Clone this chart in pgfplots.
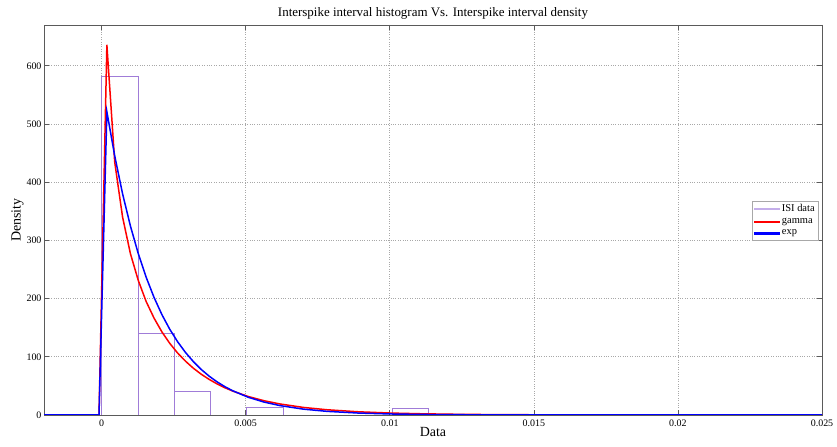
\documentclass[border=0pt]{standalone}
\usepackage{fontspec}
\setmainfont{Liberation Serif}
\usepackage{pgfplots}
\pgfplotsset{compat=1.18}
\definecolor{isi}{HTML}{A07CD8}
\definecolor{isilight}{HTML}{C4AEEA}
\definecolor{frame}{HTML}{5A5A5A}
\definecolor{gridc}{HTML}{A8A8A8}
\definecolor{gred}{HTML}{FF0000}
\definecolor{eblue}{HTML}{0000FF}

\begin{document}
\begin{tikzpicture}
\begin{axis}[
    name=ax,
    scale only axis,
    width=778bp, height=390bp,
    xmin=-0.002, xmax=0.025,
    ymin=0, ymax=670,
    xtick={0,0.005,0.01,0.015,0.02,0.025},
    xticklabels={0,0.005,0.01,0.015,0.02,0.025},
    ytick={0,100,200,300,400,500,600},
    scaled x ticks=false,
    /pgf/number format/assume math mode=true,
    tick label style={font=\fontsize{10}{12}\selectfont},
    xticklabel style={yshift=-1bp},
    yticklabel style={xshift=1bp},
    major tick length=5bp,
    axis line style={frame, line width=0.8bp},
    tick style={frame, line width=0.6bp},
    grid=major,
    grid style={gridc, dotted, line width=0.6bp},
    title={Interspike interval histogram Vs. Interspike interval density},
    title style={font=\fontsize{13}{15}\selectfont, yshift=-4bp},
    xlabel={Data}, ylabel={Density},
    label style={font=\fontsize{14}{16}\selectfont},
    xlabel style={yshift=6bp},
    ylabel style={yshift=-4bp},
    legend style={at={(0.996,0.499)}, anchor=east, draw=gridc,
        font=\fontsize{10.5}{12}\selectfont, row sep=1bp,
        inner xsep=2bp, inner ysep=1.5bp, cells={anchor=west}},
]
  % histogram (density scaled)
  \addplot[ybar interval, draw=isi, fill=none, line width=0.8bp, forget plot] coordinates {
    (0,581)(0.00126,140)(0.00252,41)(0.00378,0)(0.00504,13)(0.0063,0)
    (0.00756,0)(0.00882,0)(0.01008,11)(0.01134,0)(0.0126,0)(0.01386,0)
    (0.01512,0)(0.01638,0)(0.01764,0)(0.0189,0)(0.02016,0)(0.02142,0)
    (0.02268,0)(0.02394,0)(0.0252,0)
  };
  % gamma fit
  \addplot[gred, line width=1.5bp, mark=none, forget plot] coordinates {
    (-0.002,0)(-0.0000909,0)(0.000182,636)(0.000455,434)(0.000727,340)
    (0.001,277)(0.001273,231)(0.001545,195)(0.001818,166.5)(0.002091,142.8)
    (0.002364,123.1)(0.002636,106.5)(0.002909,92.5)(0.003182,80.4)
    (0.003455,70.1)(0.003727,61.3)(0.004,53.6)(0.004273,46.9)(0.004545,41.2)
    (0.005091,31.7)(0.005636,24.5)(0.006182,19.0)(0.007,13.0)(0.007818,9.0)
    (0.008909,5.5)(0.01,3.37)(0.011091,2.07)(0.012182,1.28)(0.013273,0.79)
    (0.014909,0.39)(0.017091,0.15)(0.019818,0.05)(0.025,0.01)
  };
  % exponential fit
  \addplot[eblue, line width=1.5bp, mark=none, forget plot] coordinates {
    (-0.002,0)(-0.0000909,0)(0.000182,521)(0.000455,445)(0.000727,380)
    (0.001,324.5)(0.001273,277)(0.001545,236.7)(0.001818,202.1)(0.002091,172.5)
    (0.002364,147.3)(0.002636,125.9)(0.002909,107.5)(0.003182,91.8)
    (0.003455,78.3)(0.003727,66.9)(0.004,57.1)(0.004273,48.8)(0.004545,41.7)
    (0.005091,30.4)(0.005636,22.2)(0.006182,16.2)(0.007,10.06)(0.007818,6.26)
    (0.008909,3.33)(0.01,1.77)(0.011091,0.94)(0.012182,0.50)(0.013273,0.27)
    (0.014909,0.10)(0.017091,0.03)(0.019818,0.01)(0.025,0)
  };
  \addlegendimage{legend image code/.code={\fill[isilight] (0bp,-0.8bp) rectangle (25bp,0.8bp);}}
  \addlegendimage{legend image code/.code={\fill[gred] (0bp,-0.8bp) rectangle (25bp,0.8bp);}}
  \addlegendimage{legend image code/.code={\fill[eblue] (0bp,-0.8bp) rectangle (25bp,0.8bp);}}
  \legend{ISI data, gamma, exp}
\end{axis}
\pgfresetboundingbox
\path[use as bounding box] ([xshift=-44bp,yshift=-32bp]ax.south west) rectangle ([xshift=15bp,yshift=25bp]ax.north east);
\end{tikzpicture}
\end{document}
